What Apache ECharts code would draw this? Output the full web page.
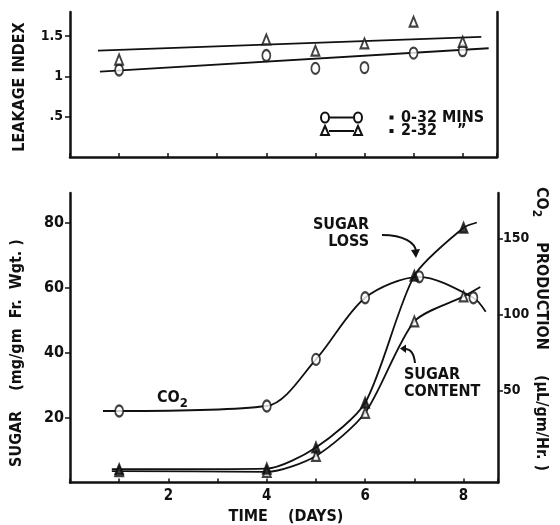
<!DOCTYPE html>
<html>
<head>
<meta charset="utf-8">
<script src="https://cdn.jsdelivr.net/npm/echarts@6/dist/echarts.min.js"></script>
<style>
  html, body { margin: 0; padding: 0; background: #fff; }
  #chart { width: 560px; height: 525px; }
</style>
</head>
<body>
<div id="chart"></div>
<script>
// --- data ---
const days = [1, 4, 5, 6, 7, 8];

// top panel: leakage index
const leak032 = [1.08, 1.26, 1.10, 1.11, 1.29, 1.32];
const leak232 = [1.21, 1.46, 1.32, 1.41, 1.68, 1.43];
const fit032 = [[0.61, 1.06], [8.53, 1.35]];
const fit232 = [[0.57, 1.32], [8.38, 1.49]];

// bottom panel: CO2 (right axis, uL/gm/Hr) and sugar (left axis, mg/gm)
const co2Days = [1, 4, 5, 6, 7.1, 8.2];
const co2 = [36.4, 39.7, 70.4, 111, 124.8, 111];
const co2Ends = [[0.67, 36.4], [8.45, 101.8]];
const sugarLoss = [4.1, 4.3, 10.8, 24.6, 63.8, 78.6];
const sugarLossEnds = [[0.85, 4.1], [8.27, 80.2]];
const sugarContent = [3.5, 3.3, 8.2, 21.5, 49.7, 57.4];
const sugarContentEnds = [[0.85, 3.5], [8.34, 60.3]];

const leakTicks = [0.5, 1, 1.5];
const sugarTicks = [20, 40, 60, 80];
const co2Ticks = [50, 100, 150];
const dayLabels = [2, 4, 6, 8];

const FONT = "'DejaVu Sans Condensed', 'DejaVu Sans', sans-serif";
const INK = '#111';

const pts = (xs, ys) => xs.map((x, i) => [x, ys[i]]);
const curve = (xs, ys, ends) => [ends[0], ...pts(xs, ys), ends[1]];

const axisLine = { show: true, lineStyle: { color: INK, width: 2.5 } };
const tickStyle = { color: INK, width: 1.5 };
const label = size => ({ color: INK, fontFamily: FONT, fontWeight: 'bold', fontSize: size });

function txt(size) {
  return { fill: INK, fontFamily: FONT, fontWeight: 'bold', fontSize: size };
}

function markers(name, xi, yi, data, symbol, size, filled) {
  return {
    name, type: 'scatter', xAxisIndex: xi, yAxisIndex: yi, data,
    symbol, symbolSize: size, z: 5,
    itemStyle: { color: filled ? INK : '#fff', borderColor: INK, borderWidth: 2 },
  };
}
function curveLine(name, xi, yi, data, smooth) {
  return {
    name, type: 'line', xAxisIndex: xi, yAxisIndex: yi, data,
    smooth, showSymbol: false, z: 3,
    lineStyle: { color: INK, width: 1.8 },
  };
}

// "O—O = 0-32 MINS" style key rows drawn in the top panel
function keyRow(y, kind, text) {
  const xs = [325, 358];
  const out = [
    { type: 'line', shape: { x1: xs[0] + 4, y1: y, x2: xs[1] - 4, y2: y }, style: { stroke: INK, lineWidth: 2 } },
    { type: 'rect', shape: { x: 389.5, y: y - 2, width: 4, height: 4 }, style: { fill: INK } },
    { type: 'text', x: 401, y, style: { text, ...txt(16), verticalAlign: 'middle' } },
  ];
  xs.forEach(x => {
    if (kind === 'circle') {
      out.push({ type: 'ellipse', shape: { cx: x, cy: y, rx: 4, ry: 5 }, style: { fill: '#fff', stroke: INK, lineWidth: 2 } });
    } else {
      out.push({ type: 'polygon', shape: { points: [[x, y - 5], [x - 4, y + 4], [x + 4, y + 4]] },
        style: { fill: '#fff', stroke: INK, lineWidth: 2 } });
    }
  });
  return out;
}

const chart = echarts.init(document.getElementById('chart'), null, { renderer: 'canvas' });

const option = {
  backgroundColor: '#fff',
  animation: false,
  grid: [
    { left: 70, right: 63, top: 12, height: 145 },
    { left: 70, right: 62, top: 193, height: 289.5 },
  ],
  xAxis: [
    {
      gridIndex: 0, type: 'value', min: 0, max: 8.7, interval: 1,
      axisLine, splitLine: { show: false },
      axisTick: { inside: true, length: 4, lineStyle: tickStyle },
      axisLabel: { show: false },
    },
    {
      gridIndex: 1, type: 'value', min: 0, max: 8.7, interval: 1,
      axisLine, splitLine: { show: false },
      axisTick: { inside: true, length: 4, lineStyle: tickStyle },
      axisLabel: { ...label(15), margin: 6, formatter: v => dayLabels.includes(v) ? String(v) : '' },
    },
  ],
  yAxis: [
    {
      gridIndex: 0, type: 'value', min: 0, max: 1.8,
      axisLine, splitLine: { show: false },
      axisTick: { length: 5, customValues: leakTicks, lineStyle: tickStyle },
      axisLabel: {
        ...label(14), margin: 7, customValues: leakTicks,
        formatter: v => String(v).replace(/^0\./, '.'),
      },
    },
    {
      gridIndex: 0, type: 'value', position: 'right', min: 0, max: 1.8,
      axisLine, splitLine: { show: false }, axisTick: { show: false }, axisLabel: { show: false },
    },
    {
      gridIndex: 1, type: 'value', min: 0, max: 89.3,
      axisLine, splitLine: { show: false },
      axisTick: { length: 5, customValues: sugarTicks, lineStyle: tickStyle },
      axisLabel: { ...label(16), margin: 6, customValues: sugarTicks },
    },
    {
      gridIndex: 1, type: 'value', position: 'right', min: -10.7, max: 180,
      axisLine, splitLine: { show: false },
      axisTick: { length: 5, customValues: co2Ticks, lineStyle: tickStyle },
      axisLabel: { ...label(14), margin: 5, customValues: co2Ticks },
    },
  ],
  series: [
    // top panel
    curveLine('fit 0-32', 0, 0, fit032, false),
    curveLine('fit 2-32', 0, 0, fit232, false),
    markers('0-32 MINS', 0, 0, pts(days, leak032), 'circle', [8, 11], false),
    markers('2-32 MINS', 0, 0, pts(days, leak232), 'triangle', [8, 10], false),
    // bottom panel
    curveLine('CO2', 1, 3, curve(co2Days, co2, co2Ends), 0.3),
    curveLine('Sugar loss', 1, 2, curve(days, sugarLoss, sugarLossEnds), 0.25),
    curveLine('Sugar content', 1, 2, curve(days, sugarContent, sugarContentEnds), 0.25),
    markers('CO2 pts', 1, 3, pts(co2Days, co2), 'circle', [8, 11], false),
    markers('Sugar content pts', 1, 2, pts(days, sugarContent), 'triangle', [8, 10], false),
    markers('Sugar loss pts', 1, 2, pts(days, sugarLoss), 'triangle', [8, 10], true),
  ],
  graphic: [
    // axis titles
    { type: 'text', x: 20, y: 87, rotation: Math.PI / 2,
      style: { text: 'LEAKAGE INDEX', ...txt(16), align: 'center', verticalAlign: 'middle' } },
    { type: 'text', x: 17, y: 353, rotation: Math.PI / 2,
      style: { text: 'SUGAR    (mg/gm  Fr.  Wgt. )', ...txt(16), align: 'center', verticalAlign: 'middle' } },
    { type: 'text', x: 541, y: 329, rotation: -Math.PI / 2,
      style: {
        text: 'CO{sub|2}     PRODUCTION     (\u03bcL/gm/Hr. )', ...txt(16), align: 'center', verticalAlign: 'middle',
        rich: { sub: { ...txt(12), padding: [9, 0, 0, 0] } },
      } },
    { type: 'text', x: 286, y: 517,
      style: { text: 'TIME    (DAYS)', ...txt(16), align: 'center', verticalAlign: 'middle' } },
    // curve labels
    { type: 'text', x: 157, y: 398,
      style: { text: 'CO{sub|2}', ...txt(16), verticalAlign: 'middle',
        rich: { sub: { ...txt(13), padding: [11, 0, 0, 0] } } } },
    { type: 'text', x: 369, y: 233,
      style: { text: 'SUGAR\nLOSS', ...txt(16), align: 'right', verticalAlign: 'middle', lineHeight: 17 } },
    { type: 'text', x: 404, y: 383,
      style: { text: 'SUGAR\nCONTENT', ...txt(16), align: 'left', verticalAlign: 'middle', lineHeight: 17 } },
    // arrows
    { type: 'bezierCurve', shape: { x1: 382, y1: 235, cpx1: 404, cpy1: 235, x2: 416, y2: 252, cpx2: 416, cpy2: 243 },
      style: { stroke: INK, lineWidth: 2, fill: 'none' } },
    { type: 'polygon', shape: { points: [[416, 258], [411, 250], [420, 249]] }, style: { fill: INK } },
    { type: 'bezierCurve', shape: { x1: 415, y1: 363, cpx1: 414, cpy1: 353, x2: 405, y2: 349, cpx2: 410, cpy2: 349 },
      style: { stroke: INK, lineWidth: 2, fill: 'none' } },
    { type: 'polygon', shape: { points: [[400, 348.5], [406, 344.5], [406, 353]] }, style: { fill: INK } },
    // key for the top panel
    ...keyRow(117.5, 'circle', '0-32 MINS'),
    ...keyRow(131, 'triangle', '2-32    \u201d'),
  ],
};

chart.setOption(option);
</script>
</body>
</html>
